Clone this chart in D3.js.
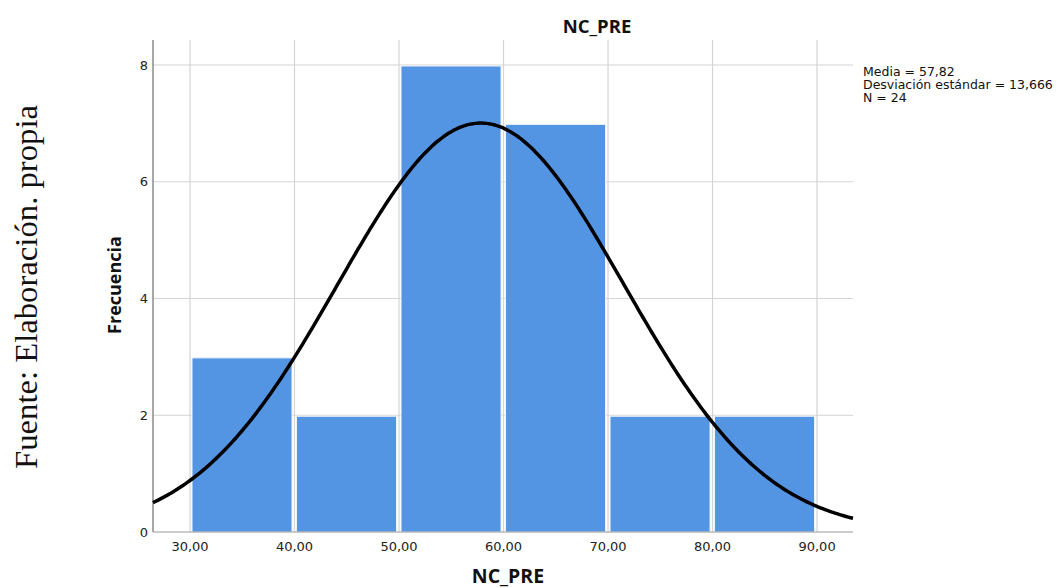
<!DOCTYPE html>
<html><head><meta charset="utf-8">
<script src="https://cdn.jsdelivr.net/npm/d3@7"></script>
<style>html,body{margin:0;padding:0;background:#fff;}svg{display:block;}</style>
</head><body>
<svg id="c" width="1057" height="588"></svg>
<script>
// Data
const binStarts = [30, 40, 50, 60, 70, 80];
const binEnds   = [40, 50, 60, 70, 80, 90];
const counts    = [3, 2, 8, 7, 2, 2];
const xTicks    = [30, 40, 50, 60, 70, 80, 90];
const xTickLabels = ["30,00","40,00","50,00","60,00","70,00","80,00","90,00"];
const yTicks    = [0, 2, 4, 6, 8];
const statsLabels = ["Media = 57,82", "Desviación estándar = 13,666", "N = 24"];
const mean = 57.82, sd = 13.666, n = 24, binWidth = 10;

const svg = d3.select("#c");
const L = 153, R = 853, T = 40, B = 532;
const x = d3.scaleLinear().domain([26.46, 93.44]).range([L, R]);
const y = d3.scaleLinear().domain([0, 8]).range([B, 65]);

// gridlines
const g = svg.append("g");
g.selectAll("line.vx").data(xTicks).join("line")
  .attr("x1", d => x(d)).attr("x2", d => x(d)).attr("y1", T).attr("y2", B)
  .attr("stroke", "#d4d4d4").attr("stroke-width", 1.2);
g.selectAll("line.hy").data(yTicks.slice(1)).join("line")
  .attr("x1", L).attr("x2", R).attr("y1", d => y(d)).attr("y2", d => y(d))
  .attr("stroke", "#d4d4d4").attr("stroke-width", 1.2);

// bars
const bars = counts.map((c, i) => ({x0: binStarts[i], x1: binEnds[i], c}));
svg.append("g").selectAll("rect").data(bars).join("rect")
  .attr("x", d => x(d.x0) + 2)
  .attr("width", d => x(d.x1) - x(d.x0) - 4.5)
  .attr("y", d => y(d.c) + 1)
  .attr("height", d => y(0) - y(d.c) - 1)
  .attr("fill", "#5394e3")
  .attr("stroke", "#eef3fb").attr("stroke-width", 1);

// axes lines
svg.append("line").attr("x1", L).attr("x2", L).attr("y1", T).attr("y2", B)
  .attr("stroke", "#6e6e6e").attr("stroke-width", 1.2);
svg.append("line").attr("x1", L).attr("x2", R).attr("y1", B).attr("y2", B)
  .attr("stroke", "#9a9a9a").attr("stroke-width", 1.2);

// normal curve
const pdf = v => n * binWidth * Math.exp(-0.5 * ((v - mean) / sd) ** 2) / (sd * Math.sqrt(2 * Math.PI));
const dom = x.domain();
const pts = d3.range(0, 301).map(i => dom[0] + (dom[1] - dom[0]) * i / 300);
svg.append("path").datum(pts)
  .attr("d", d3.line().x(d => x(d)).y(d => y(pdf(d))).curve(d3.curveBasis))
  .attr("fill", "none").attr("stroke", "#000").attr("stroke-width", 3.5);

// tick labels
svg.append("g").selectAll("text").data(xTicks).join("text")
  .attr("x", d => x(d)).attr("y", 551).attr("text-anchor", "middle")
  .attr("font-family", "DejaVu Sans").attr("font-size", 13).attr("fill", "#222")
  .text((d, i) => xTickLabels[i]);
svg.append("g").selectAll("text").data(yTicks).join("text")
  .attr("x", 148).attr("y", d => y(d) + 4.5).attr("text-anchor", "end")
  .attr("font-family", "DejaVu Sans").attr("font-size", 13).attr("fill", "#222")
  .text(d => d);

// titles
svg.append("text").attr("x", 597).attr("y", 33).attr("text-anchor", "middle")
  .attr("font-family", "Open Sans").attr("font-weight", "bold").attr("font-size", 18.5).attr("fill", "#111")
  .text("NC_PRE");
svg.append("text").attr("x", 508).attr("y", 583).attr("text-anchor", "middle")
  .attr("font-family", "Open Sans").attr("font-weight", "bold").attr("font-size", 19.5).attr("fill", "#111")
  .text("NC_PRE");
svg.append("text").attr("transform", "translate(121,285) rotate(-90)").attr("text-anchor", "middle")
  .attr("font-family", "Open Sans").attr("font-weight", "bold").attr("font-size", 18).attr("fill", "#111")
  .text("Frecuencia");

// stats legend
svg.append("g").selectAll("text").data(statsLabels).join("text")
  .attr("x", 863).attr("y", (d, i) => 76 + i * 13)
  .attr("font-family", "DejaVu Sans").attr("font-size", 12.5).attr("fill", "#111")
  .text(d => d);

// source note
svg.append("text").attr("transform", "translate(37,287) rotate(-90)").attr("text-anchor", "middle")
  .attr("font-family", "Liberation Serif").attr("font-size", 32.5).attr("fill", "#111")
  .attr("textLength", 364).attr("lengthAdjust", "spacingAndGlyphs")
  .text("Fuente: Elaboración. propia");
</script>
</body></html>
